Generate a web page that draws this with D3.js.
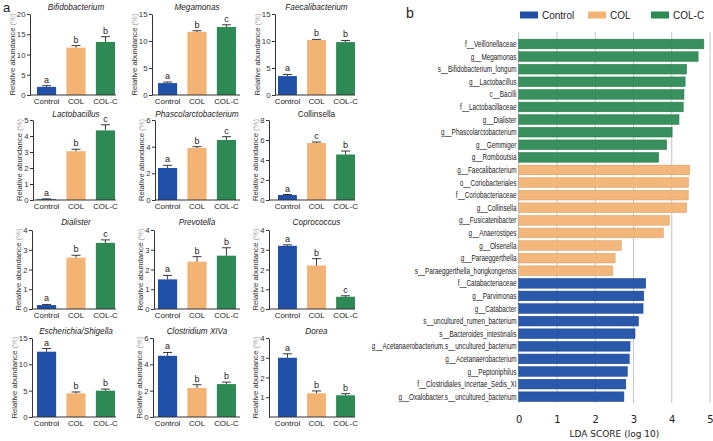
<!DOCTYPE html>
<html><head><meta charset="utf-8">
<script src="https://cdn.jsdelivr.net/npm/d3@7"></script>
<style>body{margin:0;background:#fff}svg{display:block}</style>
</head><body><svg id="c" width="713" height="441"></svg>
<script>
// ---------- data: panel a ----------
const groups = ["Control", "COL", "COL-C"];
const groupColors = ["#1f4fa6", "#f2b374", "#2d8a55"];
const genera = ["Bifidobacterium","Megamonas","Faecalibacterium","Lactobacillus","Phascolarctobacterium","Collinsella","Dialister","Prevotella","Coprococcus","Escherichia/Shigella","Clostridium XIVa","Dorea"];
const controlMean = [2.0, 2.2, 3.5, 0.05, 2.4, 0.5, 0.2, 1.5, 3.2, 12.4, 4.65, 3.0];
const colMean     = [11.7, 11.7, 10.2, 3.05, 3.9, 5.7, 2.6, 2.4, 2.2, 4.5, 2.2, 1.2];
const colcMean    = [13.1, 12.6, 9.8, 4.35, 4.5, 4.55, 3.35, 2.7, 0.62, 5.0, 2.5, 1.1];
const controlErr  = [0.3, 0.2, 0.3, 0.02, 0.2, 0.05, 0.03, 0.2, 0.05, 0.6, 0.25, 0.2];
const colErr      = [0.5, 0.2, 0.1, 0.12, 0.1, 0.1, 0.12, 0.25, 0.35, 0.25, 0.25, 0.12];
const colcErr     = [1.3, 0.4, 0.3, 0.35, 0.25, 0.35, 0.15, 0.4, 0.05, 0.3, 0.15, 0.08];
const letters = [["a","b","b"],["a","b","c"],["a","b","b"],["a","b","c"],["a","b","c"],["a","c","b"],["a","b","c"],["a","b","b"],["a","b","c"],["a","b","b"],["a","b","b"],["a","b","b"]];
const yMax = [20, 15, 15, 5, 6, 8, 4, 4, 4, 15, 6, 4];
const yTicks = [[0,5,10,15,20],[0,5,10,15],[0,5,10,15],[0,1,2,3,4,5],[0,2,4,6],[0,2,4,6,8],[0,1,2,3,4],[0,1,2,3,4],[0,1,2,3,4],[0,5,10,15],[0,2,4,6],[1,2,3,4]];
const italicTitle = [true,true,true,true,true,false,true,true,true,true,true,true];

// ---------- data: panel b (LEfSe) ----------
const ldaFeatures = ["f__Veillonellaceae","g__Megamonas","s__Bifidobacterium_longum","g__Lactobacillus","c__Bacilli","f__Lactobacillaceae","g__Dialister","g__Phascolarctobacterium","g__Gemmiger","g__Romboutsia",
  "g__Faecalibacterium","o__Coriobacteriales","f__Coriobacteriaceae","g__Collinsella","g__Fusicatenibacter","g__Anaerostipes","g__Olsenella","g__Paraeggerthella","s__Paraeggerthella_hongkongensis",
  "f__Catabacteriaceae","g__Parvimonas","g__Catabacter","s__uncultured_rumen_bacterium","s__Bacteroides_intestinalis","g__Acetanaerobacterium.s__uncultured_bacterium","g__Acetanaerobacterium","g__Peptoniphilus","f__Clostridiales_Incertae_Sedis_XI","g__Oxalobacter.s__uncultured_bacterium"];
const ldaScores = [4.84,4.69,4.39,4.35,4.32,4.30,4.19,4.01,3.87,3.66,
  4.47,4.44,4.43,4.39,3.94,3.78,2.68,2.52,2.46,
  3.32,3.27,3.25,3.13,3.04,2.91,2.89,2.84,2.80,2.75];
const ldaGroup = ["COL-C","COL-C","COL-C","COL-C","COL-C","COL-C","COL-C","COL-C","COL-C","COL-C",
  "COL","COL","COL","COL","COL","COL","COL","COL","COL",
  "Control","Control","Control","Control","Control","Control","Control","Control","Control","Control"];
const ldaTicks = [0,1,2,3,4,5];

// ---------- drawing ----------
const svg = d3.select("#c");
const color = d3.scaleOrdinal().domain(groups).range(groupColors);
const FONT = "'Liberation Sans', Arial, sans-serif";

const rows = [{top:14,bottom:95,titleY:10},{top:120,bottom:200,titleY:117},{top:230,bottom:309,titleY:225},{top:338,bottom:417,titleY:334}];
const axisXs = [30,152,275, 33,155,269, 32,154,269, 32,153,269];
const bandRanges = [[37,115],[158,236],[278,355]];
const xEnds = [116,240,355];
const means = [controlMean, colMean, colcMean];
const errs = [controlErr, colErr, colcErr];

genera.forEach((name, i) => {
  const r = rows[Math.floor(i/3)], c = i % 3;
  const ax = axisXs[i];
  const g = svg.append("g");
  const y = d3.scaleLinear().domain([0, yMax[i]]).range([r.bottom, r.top]);
  const x = d3.scaleBand().domain(groups).range(bandRanges[c]).paddingInner(0.35).paddingOuter(0);
  const vals = groups.map((gr, k) => ({gr, m: means[k][i], e: errs[k][i], l: letters[i][k]}));

  g.selectAll("rect.bar").data(vals).join("rect")
    .attr("x", d => x(d.gr)).attr("width", x.bandwidth())
    .attr("y", d => y(d.m)).attr("height", d => r.bottom - y(d.m))
    .attr("fill", d => color(d.gr));
  g.selectAll("line.ev").data(vals).join("line")
    .attr("x1", d => x(d.gr) + x.bandwidth()/2).attr("x2", d => x(d.gr) + x.bandwidth()/2)
    .attr("y1", d => y(d.m)).attr("y2", d => y(d.m + d.e))
    .attr("stroke", "#222").attr("stroke-width", 0.9);
  g.selectAll("line.ec").data(vals).join("line")
    .attr("x1", d => x(d.gr) + x.bandwidth()/2 - 4.5).attr("x2", d => x(d.gr) + x.bandwidth()/2 + 4.5)
    .attr("y1", d => y(d.m + d.e)).attr("y2", d => y(d.m + d.e))
    .attr("stroke", "#222").attr("stroke-width", 0.9);
  g.selectAll("text.lt").data(vals).join("text")
    .attr("x", d => x(d.gr) + x.bandwidth()/2).attr("y", d => y(d.m + d.e) - 3)
    .attr("text-anchor", "middle").attr("font-family", FONT).attr("font-size", 9).attr("fill", "#222")
    .text(d => d.l);

  const ya = g.append("g").attr("transform", `translate(${ax},0)`)
    .call(d3.axisLeft(y).tickValues(yTicks[i]).tickFormat(d3.format("d")).tickSize(3).tickSizeOuter(0).tickPadding(1.5));
  ya.select(".domain").attr("stroke", "#333");
  ya.selectAll(".tick line").attr("stroke", "#333");
  ya.selectAll("text").attr("font-family", FONT).attr("font-size", 7.8).attr("fill", "#333");
  g.append("line").attr("x1", ax).attr("x2", xEnds[c]).attr("y1", r.bottom).attr("y2", r.bottom).attr("stroke", "#333");
  const xa = g.append("g").attr("transform", `translate(0,${r.bottom})`)
    .call(d3.axisBottom(x).tickSize(0).tickPadding(3));
  xa.select(".domain").remove();
  xa.selectAll("text").attr("font-family", FONT).attr("font-size", 7.9).attr("fill", "#222");

  g.append("text").attr("x", (bandRanges[c][0] + bandRanges[c][1]) / 2).attr("y", r.titleY)
    .attr("text-anchor", "middle").attr("font-family", FONT).attr("font-size", 8.2)
    .attr("font-style", italicTitle[i] ? "italic" : "normal").attr("fill", "#222").text(name);

  const digits = d3.max(yTicks[i], t => String(t).length);
  const lx = ax - (digits * 4.3 + 9);
  const yl = g.append("text")
    .attr("transform", `translate(${lx},${(r.top + r.bottom) / 2}) rotate(-90)`)
    .attr("dy", "0.35em").attr("text-anchor", "middle")
    .attr("font-family", FONT).attr("font-size", 7.7).attr("fill", "#333");
  yl.append("tspan").text("Relative abundance ");
  yl.append("tspan").attr("fill", "#aaa").text("(%)");
});

svg.append("text").attr("x", 3).attr("y", 12).attr("font-family", FONT).attr("font-size", 13).attr("fill", "#222").text("a");
svg.append("text").attr("x", 406).attr("y", 18).attr("font-family", FONT).attr("font-size", 14).attr("fill", "#222").text("b");

// ---------- panel b ----------
const bx = d3.scaleLinear().domain([0, 5]).range([518.7, 710]);
const by = d3.scaleBand().domain(ldaFeatures).range([37.7, 403]).paddingInner(0.23).paddingOuter(0.115);
const pb = svg.append("g");
pb.selectAll("line.grid").data(ldaTicks).join("line")
  .attr("x1", d => bx(d)).attr("x2", d => bx(d)).attr("y1", 32).attr("y2", 403)
  .attr("stroke", "#c4c4c4").attr("stroke-width", 1);
pb.selectAll("rect.lda").data(ldaFeatures).join("rect")
  .attr("x", bx(0)).attr("y", d => by(d))
  .attr("width", (d, i) => bx(ldaScores[i]) - bx(0)).attr("height", by.bandwidth())
  .attr("fill", (d, i) => color(ldaGroup[i]))
  .attr("fill-opacity", 0.95)
  .attr("stroke", (d, i) => d3.color(color(ldaGroup[i])).darker(0.4)).attr("stroke-width", 0.5);
pb.selectAll("text.lab").data(ldaFeatures).join("text")
  .attr("transform", d => `translate(516.5,${by(d) + by.bandwidth() / 2}) scale(0.76,1)`)
  .attr("dy", "0.36em")
  .attr("text-anchor", "end").attr("font-family", FONT)
  .attr("font-size", 8.4).attr("fill", "#222").text(d => d);
const bax = pb.append("g").attr("transform", "translate(0,403)")
  .call(d3.axisBottom(bx).tickValues(ldaTicks).tickSize(0).tickPadding(13).tickFormat(d3.format("d")));
bax.select(".domain").remove();
bax.selectAll("text").attr("font-family", "'DejaVu Sans', sans-serif").attr("font-size", 10).attr("fill", "#222");
pb.append("text").attr("x", bx(2.5)).attr("y", 437).attr("text-anchor", "middle")
  .attr("font-family", "'DejaVu Sans', sans-serif").attr("font-size", 9).attr("fill", "#222").text("LDA SCORE (log 10)");

const legX = [520, 588, 651];
const lg = pb.selectAll("g.leg").data(groups).join("g").attr("transform", (d, i) => `translate(${legX[i]},15)`);
lg.append("rect").attr("x", 0).attr("y", -3.5).attr("width", 18).attr("height", 7).attr("fill", d => color(d));
lg.append("text").attr("x", 22).attr("dy", "0.35em").attr("font-family", FONT).attr("font-size", 10).attr("fill", "#222").text(d => d);
</script></body></html>
